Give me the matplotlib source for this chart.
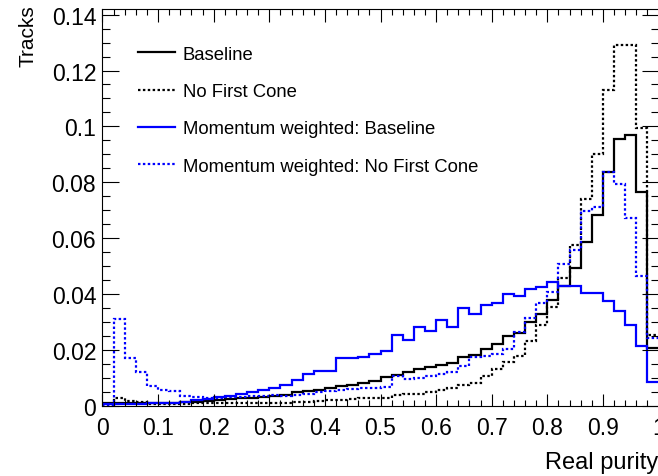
import numpy as np
import matplotlib
matplotlib.use("Agg")
import matplotlib.pyplot as plt
from matplotlib.ticker import MultipleLocator

plt.rcParams['font.family'] = ['Liberation Sans', 'DejaVu Sans']

# 50 bins of real purity, 0 -> 1
n_bins = 50
edges = np.linspace(0.0, 1.0, n_bins + 1)

baseline = [
    0.0009, 0.0009, 0.0009, 0.0009, 0.0010, 0.0011, 0.0012, 0.0014, 0.0016, 0.0018,
    0.0021, 0.0024, 0.0027, 0.0030, 0.0032, 0.0035, 0.0039, 0.0049, 0.0052, 0.0058,
    0.0063, 0.0070, 0.0075, 0.0082, 0.0089, 0.0104, 0.0112, 0.0122, 0.0132, 0.0141,
    0.0148, 0.0153, 0.0174, 0.0181, 0.0205, 0.0222, 0.0249, 0.0262, 0.0302, 0.0329,
    0.0379, 0.0428, 0.0492, 0.0587, 0.0684, 0.0836, 0.0956, 0.0971, 0.0764, 0.0207,
]
no_first_cone = [
    0.0008, 0.0027, 0.0018, 0.0016, 0.0008, 0.0008, 0.0008, 0.0008, 0.0009, 0.0009,
    0.0009, 0.0010, 0.0010, 0.0010, 0.0011, 0.0011, 0.0012, 0.0013, 0.0015, 0.0018,
    0.0022, 0.0023, 0.0025, 0.0027, 0.0029, 0.0030, 0.0038, 0.0043, 0.0044, 0.0050,
    0.0057, 0.0066, 0.0074, 0.0084, 0.0108, 0.0132, 0.0156, 0.0180, 0.0234, 0.0290,
    0.0355, 0.0457, 0.0576, 0.0741, 0.0900, 0.1131, 0.1290, 0.1293, 0.0993, 0.0255,
]
mw_baseline = [
    0.0006, 0.0006, 0.0006, 0.0007, 0.0009, 0.0011, 0.0012, 0.0016, 0.0022, 0.0026,
    0.0031, 0.0035, 0.0042, 0.0049, 0.0058, 0.0066, 0.0075, 0.0093, 0.0113, 0.0124,
    0.0125, 0.0172, 0.0172, 0.0176, 0.0186, 0.0198, 0.0254, 0.0237, 0.0284, 0.0269,
    0.0306, 0.0284, 0.0352, 0.0329, 0.0360, 0.0367, 0.0401, 0.0395, 0.0417, 0.0427,
    0.0445, 0.0428, 0.0428, 0.0405, 0.0405, 0.0377, 0.0341, 0.0290, 0.0216, 0.0087,
]
mw_no_first_cone = [
    0.0004, 0.0311, 0.0172, 0.0120, 0.0070, 0.0058, 0.0052, 0.0037, 0.0032, 0.0030,
    0.0030, 0.0031, 0.0032, 0.0034, 0.0036, 0.0038, 0.0036, 0.0038, 0.0043, 0.0049,
    0.0052, 0.0058, 0.0060, 0.0063, 0.0063, 0.0067, 0.0106, 0.0097, 0.0100, 0.0108,
    0.0113, 0.0122, 0.0144, 0.0175, 0.0180, 0.0186, 0.0204, 0.0264, 0.0315, 0.0370,
    0.0407, 0.0508, 0.0558, 0.0697, 0.0712, 0.0836, 0.0795, 0.0671, 0.0466, 0.0242,
]

labels = ['Baseline', 'No First Cone',
          'Momentum weighted: Baseline', 'Momentum weighted: No First Cone']

dots = (0, (1.1, 1.1))

fig = plt.figure(figsize=(6.58, 4.77), dpi=100)
ax = fig.add_axes([102.5 / 658, 70 / 477, 556 / 658, 397 / 477])

ax.stairs(baseline, edges, baseline=None, color='black', lw=1.6, label=labels[0])
ax.stairs(no_first_cone, edges, baseline=None, color='black', lw=1.6, linestyle=dots, label=labels[1])
ax.stairs(mw_baseline, edges, baseline=None, color='#0000ff', lw=1.6, label=labels[2])
ax.stairs(mw_no_first_cone, edges, baseline=None, color='#0000ff', lw=1.6, linestyle=dots, label=labels[3])

ax.set_xlim(0, 1)
ax.set_ylim(0, 0.142)

ax.xaxis.set_major_locator(MultipleLocator(0.1))
ax.xaxis.set_minor_locator(MultipleLocator(0.02))
ax.yaxis.set_major_locator(MultipleLocator(0.02))
ax.yaxis.set_minor_locator(MultipleLocator(0.005))
ax.xaxis.set_major_formatter(plt.FuncFormatter(lambda v, p: ('%g' % round(v, 3))))
ax.yaxis.set_major_formatter(plt.FuncFormatter(lambda v, p: ('%g' % round(v, 3))))

ax.tick_params(axis='both', which='both', direction='in', top=True, right=True, width=0.8)
ax.tick_params(axis='x', which='major', length=9, labelsize=16.5, pad=7.5)
ax.tick_params(axis='x', which='minor', length=4.5)
ax.tick_params(axis='y', which='major', length=12, labelsize=16.5, pad=4.5)
ax.tick_params(axis='y', which='minor', length=6)
for s in ax.spines.values():
    s.set_linewidth(0.8)

ax.set_xlabel('Real purity', fontsize=17)
ax.xaxis.label.set_ha('right')
ax.xaxis.label.set_va('top')
ax.xaxis.set_label_coords(1.0, -0.113)

ax.set_ylabel('Tracks', fontsize=15)
ax.yaxis.label.set_rotation_mode('default')
ax.yaxis.label.set_ha('center')
ax.yaxis.label.set_va('top')
ax.yaxis.set_label_coords(-0.134, 1.0126)

ax.legend(loc='upper left', bbox_to_anchor=(0.064, 0.9075), frameon=False,
          fontsize=13.3, handlelength=2.0, handletextpad=0.43, labelspacing=1.1,
          borderpad=0, borderaxespad=0)

fig.savefig('out.png', dpi=100)
